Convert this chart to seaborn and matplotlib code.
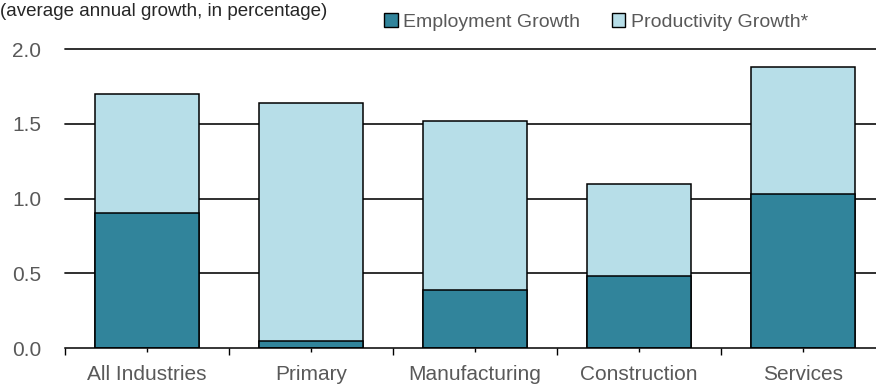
import matplotlib
matplotlib.use("Agg")
import matplotlib.pyplot as plt
from matplotlib.patches import Patch
import seaborn as sns
import pandas as pd

categories = ["All Industries", "Primary", "Manufacturing", "Construction", "Services"]
employment_growth = [0.90, 0.05, 0.39, 0.48, 1.03]
productivity_growth = [0.80, 1.59, 1.13, 0.62, 0.85]
y_ticks = [0.0, 0.5, 1.0, 1.5, 2.0]
y_tick_labels = ["0.0", "0.5", "1.0", "1.5", "2.0"]

dark_teal = "#31849B"
light_blue = "#B7DEE8"
label_gray = "#595959"

sns.set_theme(style="white")
plt.rcParams["font.family"] = ["Liberation Sans", "DejaVu Sans"]

df = pd.DataFrame({
    "industry": categories,
    "employment": employment_growth,
    "total": [e + p for e, p in zip(employment_growth, productivity_growth)],
})

fig = plt.figure(figsize=(8.76, 3.87), dpi=100)
ax = fig.add_axes([65 / 876, 39 / 387, 820 / 876, 299 / 387])

# horizontal reference lines behind the bars
for yv in y_ticks[1:]:
    ax.axhline(yv, color="#1f1f1f", lw=1.3, zorder=0, clip_on=False)

# stacked bars: full height in light blue, employment part in teal on top
sns.barplot(data=df, x="industry", y="total", order=categories, color=light_blue,
            edgecolor="black", linewidth=1.1, width=0.63, saturation=1, ax=ax, zorder=2)
sns.barplot(data=df, x="industry", y="employment", order=categories, color=dark_teal,
            edgecolor="black", linewidth=1.1, width=0.63, saturation=1, ax=ax, zorder=3)

ax.set_xlim(-0.5, len(categories) - 0.5)
ax.set_ylim(0, 2.0)
ax.set_xlabel("")
ax.set_ylabel("")

for side in ["top", "right", "left"]:
    ax.spines[side].set_visible(False)
ax.spines["bottom"].set_color("black")
ax.spines["bottom"].set_linewidth(1.1)
ax.spines["bottom"].set_zorder(4)

ax.set_xticks(range(len(categories)))
ax.set_xticklabels(categories)
ax.set_xticks([i - 0.5 for i in range(len(categories) + 1)], minor=True)
ax.tick_params(axis="x", which="major", bottom=True, length=3, width=1, color="black",
               labelsize=15, labelcolor=label_gray, pad=9)
ax.tick_params(axis="x", which="minor", bottom=True, length=5, width=1, color="black")

ax.set_yticks(y_ticks)
ax.set_yticklabels(y_tick_labels)
ax.tick_params(axis="y", length=0, labelsize=15, labelcolor=label_gray, pad=17)

fig.text(0.0, 1 - 12 / 387, "(average annual growth, in percentage)", fontsize=13.5,
         color="#262626", ha="left", va="center")

handles = [
    Patch(facecolor=dark_teal, edgecolor="black", linewidth=1, label="Employment Growth"),
    Patch(facecolor=light_blue, edgecolor="black", linewidth=1, label="Productivity Growth*"),
]
fig.legend(handles=handles, loc="center left", bbox_to_anchor=(384 / 876, 1 - 22 / 387),
           ncol=2, frameon=False, fontsize=14, labelcolor=label_gray,
           handlelength=0.7, handleheight=0.7, handletextpad=0.3, columnspacing=1.6,
           borderaxespad=0, borderpad=0)

fig.savefig("out.png", dpi=100)
